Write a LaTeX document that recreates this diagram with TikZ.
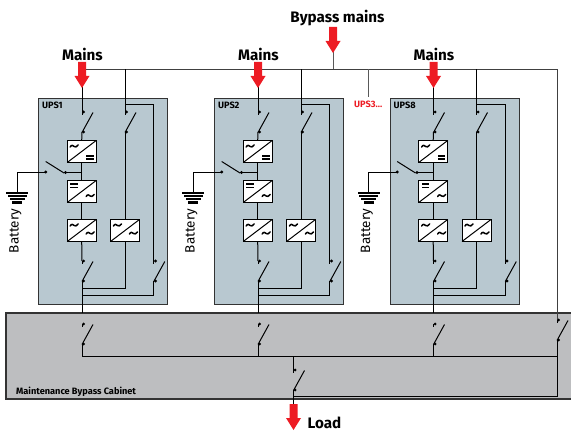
\documentclass[tikz,border=0pt]{standalone}
\usepackage{fontspec}
\setmainfont{Fira Sans}
\definecolor{upsfill}{HTML}{B8C8D0}
\definecolor{cabfill}{HTML}{BDBEC0}
\definecolor{arrred}{HTML}{ED1C24}
\definecolor{edge}{HTML}{333333}
\tikzset{
  wire/.style={draw=black,line width=1pt},
  thinwire/.style={draw=black!65,line width=1pt},
  upsbox/.style={draw=edge,fill=upsfill,line width=1pt},
  cabbox/.style={draw=edge,fill=cabfill,line width=1.4pt},
  conv/.style={draw=black,fill=white,line width=1pt,minimum width=29pt,minimum height=22pt,inner sep=0pt,outer sep=0pt},
  swdot/.style={circle,fill=black,inner sep=0pt,minimum size=3.2pt},
  redarrow/.style={fill=arrred,draw=none},
  headlab/.style={font=\fontsize{15.2}{15}\selectfont\bfseries,inner sep=0pt},
  smalllab/.style={font=\fontsize{9.2}{9}\selectfont\bfseries,inner sep=0pt,anchor=west},
  pics/switch/.style={code={
    \draw[wire] (0,0) -- (0,3);
    \node[swdot] at (1.6,0) {};
    \node[swdot] at (1.6,20) {};
    \draw[wire] (0,20.5) -- (11,0.5);
  }},
  pics/downarrow/.style={code={
    \fill[redarrow] (-4,0) -- (4,0) -- (4,14) -- (7.5,14) -- (0,26) -- (-7.5,14) -- (-4,14) -- cycle;
  }},
  pics/acsym/.style={code={
    \draw[line width=1.5pt,line cap=round] (0,0) .. controls (1.5,-3) and (3,-1) .. (4,-0.5) .. controls (5,0) and (6.5,0.5) .. (8,-2);
  }},
  pics/dcsym/.style={code={
    \fill (0,0) rectangle (7.5,1.7);
    \fill (0,3.2) rectangle (7.5,4.9);
  }},
  pics/battery/.style={code={
    \fill (-11,0) rectangle (11,2.2);
    \fill (-9.5,3.2) rectangle (9.5,5);
    \fill (-7.5,6) rectangle (7.5,8.5);
    \fill (-5,9.2) rectangle (5,12);
  }},
}
\newcommand{\conva}[5]{% name, cx, cy, top symbol, bottom symbol
  \node[conv] (#1) at (#2,#3) {};
  \draw[wire] (#1.south west) -- (#1.north east);
  \pic at ([shift={(3,6.5)}]#1.north west) {#4};
  \pic at ([shift={(-10,-7.5)}]#1.south east) {#5};
}
\newcommand{\upsunit}[3]{% prefix, x offset, label
\begin{scope}[shift={(#2,0)}]
  \node[upsbox,minimum width=129pt,minimum height=205pt,inner sep=0pt,outer sep=0pt] (#1box) at (103,201.5) {};
  \node[smalllab] (#1lab) at (42,105) {#3};
  \coordinate (#1m) at (82,69.5);
  \coordinate (#1b) at (125,69.5);
  \coordinate (#1bt) at (125,105);
  \coordinate (#1r) at (153.8,105);
  \coordinate (#1rs) at (153.8,261);
  \coordinate (#1j) at (82,295);
  \coordinate (#1k) at (82,288);
  \coordinate (#1o) at (82,313);
  \coordinate (#1bs) at (82,173);
  \coordinate (#1bl) at (17,173);
  \conva{#1a}{81.7}{151.5}{acsym}{dcsym}
  \node[conv] (#1c) at (81.7,191.5) {};
  \draw[wire] (#1c.south west) -- (#1c.north east);
  \pic at ([shift={(3,3)}]#1c.north west) {dcsym};
  \pic at ([shift={(-10,-6)}]#1c.south east) {acsym};
  \conva{#1d}{81.7}{230.5}{acsym}{acsym}
  \conva{#1e}{125}{230.5}{acsym}{acsym}
  \draw[wire] (#1m) -- (#1m |- 0,112);
  \pic at (82,112) {switch};
  \draw[wire] (82,132) -- (#1a.north);
  \draw[wire] (#1a.south) -- (#1c.north);
  \draw[wire] (#1c.south) -- (#1d.north);
  \draw[wire] (#1d.south) -- (82,261);
  \pic at (82,261) {switch};
  \draw[wire] (82,281) -- (#1o);
  \draw[wire] (#1b) -- (125,112);
  \pic at (125,112) {switch};
  \draw[wire] (125,132) -- (#1e.north);
  \draw[wire] (#1e.south) -- (125,288) -- (#1k);
  \draw[wire] (#1bt) -- (#1r) -- (#1rs);
  \pic at (153.8,261) {switch};
  \draw[wire] (153.8,281) -- (153.8,295) -- (#1j);
  \draw[wire] (#1bs) -- (65.5,173);
  \node[swdot] at (65.5,172.5) {};
  \node[swdot] at (45.7,172) {};
  \draw[wire] (45.7,161.5) -- (64,173);
  \draw[wire] (45.7,173) -- (#1bl) -- (17,192);
  \pic at (17,192) {battery};
  \node[rotate=90,font=\fontsize{13.5}{13}\selectfont,inner sep=0pt] (#1batt) at (15.5,231) {Battery};
  \pic at (82,62) {downarrow};
  \node[headlab] (#1mains) at (82.5,54) {Mains};
\end{scope}
}
\begin{document}
\begin{tikzpicture}[x=1pt,y=-1pt]
\useasboundingbox (0,0) rectangle (571,433);
\node[cabbox,minimum width=570pt,minimum height=86pt,inner sep=0pt,outer sep=0pt] (cab) at (291,356) {};
\node[smalllab] (cablab) at (16,391.5) {Maintenance Bypass Cabinet};
\coordinate (mainL) at (82,69.5);
\coordinate (mainR) at (557,69.5);
\draw[line width=1pt,draw=black!75] (mainL) -- (mainR) -- (557,320);
\upsunit{p}{0}{UPS1}
\upsunit{q}{176}{UPS2}
\upsunit{r}{351.5}{UPS8}
% bypass mains
\coordinate (bypt) at (333,69.5);
\draw[thinwire] (bypt) -- (333,45);
\pic at (333,27) {downarrow};
\node[headlab] (byp) at (337.5,18) {Bypass mains};
% UPS3 stub
\coordinate (u3t) at (368.7,69.5);
\coordinate (u3b) at (368.7,97);
\draw[thinwire] (u3t) -- (u3b);
\node[smalllab,text=arrred] (u3) at (354,104.5) {UPS3...};
% cabinet switches
\pic at (82,324) {switch};
\pic at (258,324) {switch};
\pic at (433.5,324) {switch};
\pic at (557,320) {switch};
\draw[wire] (82,344) -- (82,356.5);
\draw[wire] (258,344) -- (258,356.5);
\draw[wire] (433.5,344) -- (433.5,356.5);
\draw[wire] (82,356.5) -- (557,356.5);
\draw[wire] (557,340) -- (557,396) -- (293.5,396);
\draw[wire] (293.5,356.5) -- (293.5,370);
\pic at (293.5,370) {switch};
\draw[wire] (293.5,390) -- (293.5,408);
\pic at (293.5,404) {downarrow};
\node[headlab] (load) at (324.5,423) {Load};
\end{tikzpicture}
\end{document}
